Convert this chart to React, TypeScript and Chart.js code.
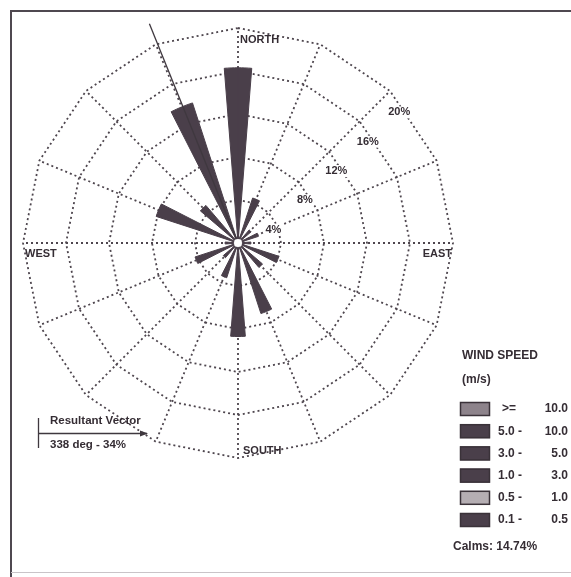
import React, { useEffect, useRef } from "react";
import { Chart, registerables } from "chart.js";

Chart.register(...registerables);

// ---- data ----
const directions = ["N", "NNE", "NE", "ENE", "E", "ESE", "SE", "SSE", "S", "SSW", "SW", "WSW", "W", "WNW", "NW", "NNW"];
const frequencies = [16.3, 4.4, 1.6, 2.0, 1.2, 4.0, 3.0, 6.9, 8.7, 3.4, 1.8, 4.2, 1.2, 8.0, 4.6, 13.7];
const ringTicks = [4, 8, 12, 16, 20];
const tickLabels = ["4%", "8%", "12%", "16%", "20%"];
const compassLabels = ["NORTH", "EAST", "SOUTH", "WEST"];
const speedTitle = ["WIND SPEED", "(m/s)"];
const speedLow = [">=", "5.0 -", "3.0 -", "1.0 -", "0.5 -", "0.1 -"];
const speedHigh = ["10.0", "10.0", "5.0", "3.0", "1.0", "0.5"];
const speedColors = ["#8d838b", "#4a3f4a", "#4a3f4a", "#4a3f4a", "#b5aeb3", "#4a3f4a"];
const calmsPct = 14.74;
const resultantDeg = 338;
const resultantPct = 34;
const wedgeWidthDeg = 9;

const WEDGE = "#4a3f4a";
const GRID = "#4e464e";
const TEXT = "#352d34";
const FONT = '"Liberation Sans", Arial, sans-serif';

// build polar-area arcs: narrow wedge centred on each direction, with empty gaps
const sector = 360 / directions.length;
const gapDeg = sector - wedgeWidthDeg;
const arcValues: number[] = [];
const arcAngles: number[] = [];
const arcBorders: number[] = [];
arcValues.push(frequencies[0]); arcAngles.push(wedgeWidthDeg / 2); arcBorders.push(1);
for (let i = 1; i < directions.length; i++) {
  arcValues.push(0); arcAngles.push(gapDeg); arcBorders.push(0);
  arcValues.push(frequencies[i]); arcAngles.push(wedgeWidthDeg); arcBorders.push(1);
}
arcValues.push(0); arcAngles.push(gapDeg); arcBorders.push(0);
arcValues.push(frequencies[0]); arcAngles.push(wedgeWidthDeg / 2); arcBorders.push(1);

const overlay = {
  id: "roseOverlay",
  beforeDraw(chart: any) {
    const ctx = chart.ctx;
    ctx.save();
    ctx.fillStyle = "#ffffff";
    ctx.fillRect(0, 0, chart.width, chart.height);
    ctx.strokeStyle = "#4f4850";
    ctx.lineWidth = 2;
    ctx.beginPath();
    ctx.moveTo(11, chart.height);
    ctx.lineTo(11, 11);
    ctx.lineTo(chart.width, 11);
    ctx.stroke();
    ctx.strokeStyle = "#c9c4c8";
    ctx.lineWidth = 1;
    ctx.beginPath();
    ctx.moveTo(11, 572.5);
    ctx.lineTo(chart.width, 572.5);
    ctx.stroke();
    ctx.restore();
  },
  afterDatasetsDraw(chart: any) {
    const ctx = chart.ctx;
    const s = chart.scales.r;
    const xc = s.xCenter;
    const yc = s.yCenter;
    const R = s.drawingArea;
    ctx.save();
    // resultant vector direction line
    const th = (resultantDeg * Math.PI) / 180;
    const L = R * 1.1;
    ctx.strokeStyle = "#3f383f";
    ctx.lineWidth = 1.3;
    ctx.beginPath();
    ctx.moveTo(xc, yc);
    ctx.lineTo(xc + L * Math.sin(th), yc - L * Math.cos(th));
    ctx.stroke();
    // centre hole
    ctx.fillStyle = "#ffffff";
    ctx.beginPath();
    ctx.arc(xc, yc, 4, 0, Math.PI * 2);
    ctx.fill();

    // ring labels
    ctx.font = `bold 11px ${FONT}`;
    ctx.textAlign = "center";
    ctx.textBaseline = "middle";
    const a = (47 * Math.PI) / 180;
    ringTicks.forEach((v, i) => {
      const r = s.getDistanceFromCenterForValue(v);
      const x = xc + r * Math.sin(a) + 4;
      const y = yc - r * Math.cos(a) + 16;
      ctx.fillStyle = "#ffffff";
      const w = ctx.measureText(tickLabels[i]).width;
      ctx.fillRect(x - w / 2 - 1, y - 6, w + 2, 12);
      ctx.fillStyle = TEXT;
      ctx.fillText(tickLabels[i], x, y);
    });

    // compass labels
    ctx.fillStyle = TEXT;
    ctx.font = `bold 11px ${FONT}`;
    ctx.textBaseline = "middle";
    ctx.textAlign = "left";
    ctx.fillText(compassLabels[0], xc + 2, yc - R + 12);
    ctx.textAlign = "right";
    ctx.fillText(compassLabels[1], xc + R - 1, yc + 11);
    ctx.textAlign = "left";
    ctx.fillText(compassLabels[2], xc + 5, yc + R - 7);
    ctx.fillText(compassLabels[3], xc - R + 2, yc + 11);

    // legend
    ctx.font = `bold 12px ${FONT}`;
    ctx.textAlign = "left";
    ctx.fillText(speedTitle[0], 462, 356);
    ctx.fillText(speedTitle[1], 462, 380);
    speedLow.forEach((lo, i) => {
      const yy = 409 + i * 22.2;
      ctx.fillStyle = speedColors[i];
      ctx.fillRect(460, yy - 7, 30, 14);
      ctx.strokeStyle = "#3a3239";
      ctx.lineWidth = 1.5;
      ctx.strokeRect(460.5, yy - 6.5, 29, 13);
      ctx.fillStyle = TEXT;
      ctx.textAlign = "left";
      ctx.fillText(lo, i === 0 ? 502 : 498, yy);
      ctx.textAlign = "right";
      ctx.fillText(speedHigh[i], 568, yy);
    });
    ctx.textAlign = "left";
    ctx.fillText(`Calms: ${calmsPct.toFixed(2)}%`, 453, 547);

    // resultant vector legend
    ctx.strokeStyle = "#3f383f";
    ctx.lineWidth = 1.3;
    ctx.beginPath();
    ctx.moveTo(38.5, 418);
    ctx.lineTo(38.5, 448);
    ctx.moveTo(38.5, 433.5);
    ctx.lineTo(147, 433.5);
    ctx.stroke();
    ctx.beginPath();
    ctx.moveTo(148, 433.5);
    ctx.lineTo(140, 430.5);
    ctx.lineTo(140, 436.5);
    ctx.closePath();
    ctx.fillStyle = "#3f383f";
    ctx.fill();
    ctx.fillStyle = TEXT;
    ctx.font = `bold 11.5px ${FONT}`;
    ctx.fillText("Resultant Vector", 50, 421);
    ctx.fillText(`${resultantDeg} deg - ${resultantPct}%`, 50, 445);
    ctx.restore();
  },
};

export default function App() {
  const ref = useRef<HTMLCanvasElement | null>(null);
  useEffect(() => {
    if (!ref.current) return;
    const chart = new Chart(ref.current, {
      type: "polarArea",
      data: {
        labels: directions,
        datasets: [
          {
            data: arcValues,
            angle: arcAngles,
            backgroundColor: WEDGE,
            borderColor: WEDGE,
            borderWidth: arcBorders,
          } as any,
        ],
      },
      options: {
        responsive: false,
        animation: false,
        layout: { padding: { left: 23, top: 28, right: 118, bottom: 119 } },
        plugins: { legend: { display: false }, tooltip: { enabled: false } },
        scales: {
          r: {
            min: 0,
            max: 20,
            startAngle: 0,
            ticks: { stepSize: 4, display: false },
            grid: { circular: false, color: GRID, lineWidth: 1.8 },
            border: { dash: [2, 3] },
            angleLines: { display: true, color: GRID, lineWidth: 1.8, borderDash: [2, 3] },
            pointLabels: { display: false },
          } as any,
        },
      },
      plugins: [overlay],
    });
    return () => chart.destroy();
  }, []);
  return (
    <div style={{ position: "fixed", left: 0, top: 0, width: 571, height: 577, background: "#fff" }}>
      <canvas ref={ref} width={571} height={577} style={{ display: "block" }} />
    </div>
  );
}
